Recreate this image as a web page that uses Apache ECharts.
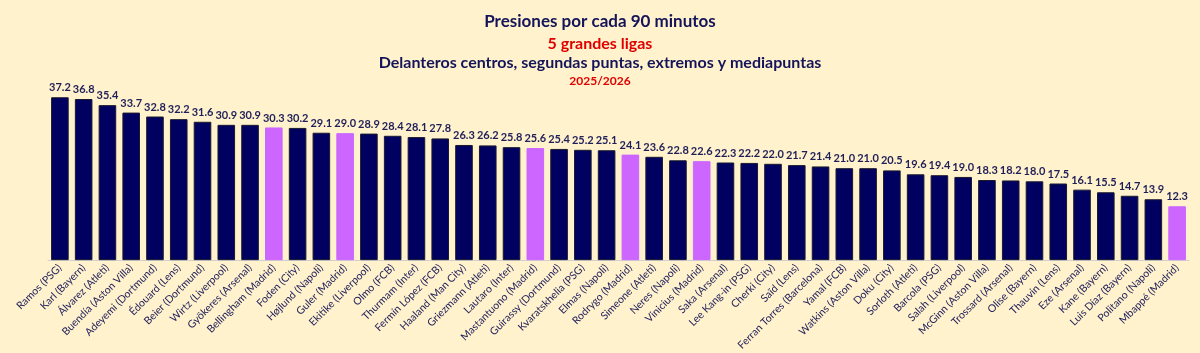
<!DOCTYPE html>
<html>
<head>
<meta charset="utf-8">
<script src="https://cdn.jsdelivr.net/npm/echarts@6/dist/echarts.min.js"></script>
<style>
  html, body { margin: 0; padding: 0; background: #fff2cc; }
  #container { width: 1200px; height: 353px; }
</style>
</head>
<body>
<div id="container"></div>
<script>
// jugadores y presiones por 90'
var players = [
  'Ramos (PSG)', 'Karl (Bayern)', 'Álvarez (Atleti)', 'Buendía (Aston Villa)', 'Adeyemi (Dortmund)',
  'Édouard (Lens)', 'Beier (Dortmund)', 'Wirtz (Liverpool)', 'Gyökeres (Arsenal)', 'Bellingham (Madrid)',
  'Foden (City)', 'Højlund (Napoli)', 'Guler (Madrid)', 'Ekitike (Liverpool)', 'Olmo (FCB)',
  'Thurmam (Inter)', 'Fermín López (FCB)', 'Haaland (Man City)', 'Griezmann (Atleti)', 'Lautaro (Inter)',
  'Mastantuono (Madrid)', 'Guirassy (Dortmund)', 'Kvaratskhelia (PSG)', 'Elmas (Napoli)', 'Rodrygo (Madrid)',
  'Simeone (Atleti)', 'Neres (Napoli)', 'Vinicius (Madrid)', 'Saka (Arsenal)', 'Lee Kang-in (PSG)',
  'Cherki (City)', 'Saïd (Lens)', 'Ferran Torres (Barcelona)', 'Yamal (FCB)', 'Watkins (Aston Villa)',
  'Doku (City)', 'Sorloth (Atleti)', 'Barcola (PSG)', 'Salah (Liverpool)', 'McGinn (Aston Villa)',
  'Trossard (Arsenal)', 'Olise (Bayern)', 'Thauvin (Lens)', 'Eze (Arsenal)', 'Kane (Bayern)',
  'Luis Díaz (Bayern)', 'Politano (Napoli)', 'Mbappé (Madrid)'
];
var pressures = [
  37.2, 36.8, 35.4, 33.7, 32.8, 32.2, 31.6, 30.9, 30.9, 30.3,
  30.2, 29.1, 29.0, 28.9, 28.4, 28.1, 27.8, 26.3, 26.2, 25.8,
  25.6, 25.4, 25.2, 25.1, 24.1, 23.6, 22.8, 22.6, 22.3, 22.2,
  22.0, 21.7, 21.4, 21.0, 21.0, 20.5, 19.6, 19.4, 19.0, 18.3,
  18.2, 18.0, 17.5, 16.1, 15.5, 14.7, 13.9, 12.3
];
// jugadores del Madrid resaltados
var madrid = ['Bellingham (Madrid)', 'Guler (Madrid)', 'Mastantuono (Madrid)', 'Rodrygo (Madrid)', 'Vinicius (Madrid)', 'Mbappé (Madrid)'];

var NAVY = '#000060';
var PURPLE = '#cc66ff';
var FONT = 'Lato, "Open Sans", sans-serif';

var myChart = echarts.init(document.getElementById('container'));

var seriesData = pressures.map(function (v, i) {
  var hl = madrid.indexOf(players[i]) >= 0;
  return {
    value: v,
    itemStyle: { color: hl ? PURPLE : NAVY, borderColor: hl ? PURPLE : '#1a1a2e' }
  };
});

var option = {
  backgroundColor: '#fff2cc',
  animation: false,
  textStyle: { fontFamily: FONT },
  title: [
    { text: 'Presiones por cada 90 minutos', left: 'center', top: 8,
      textStyle: { fontFamily: FONT, fontSize: 17, fontWeight: 'bold', color: '#14145a' } },
    { text: '5 grandes ligas', left: 'center', top: 31,
      textStyle: { fontFamily: FONT, fontSize: 16, fontWeight: 'bold', color: '#e00000' } },
    { text: 'Delanteros centros, segundas puntas, extremos y mediapuntas', left: 'center', top: 50,
      textStyle: { fontFamily: FONT, fontSize: 16, fontWeight: 'bold', color: '#14145a' } },
    { text: '2025/2026', left: 'center', top: 70,
      textStyle: { fontFamily: FONT, fontSize: 12, fontWeight: 'bold', color: '#e00000' } }
  ],
  grid: { left: 48, right: 11, top: 85, bottom: 92 },
  xAxis: {
    type: 'category',
    data: players,
    axisTick: { show: false },
    axisLine: { lineStyle: { color: '#d0d0d0', width: 1 } },
    axisLabel: {
      interval: 0,
      rotate: 45,
      margin: 6,
      fontFamily: FONT,
      fontSize: 10.5,
      color: '#23235e'
    }
  },
  yAxis: {
    type: 'value',
    min: 0,
    max: 40,
    show: false,
    splitLine: { show: false }
  },
  series: [{
    type: 'bar',
    data: seriesData,
    barWidth: '74%',
    itemStyle: { borderWidth: 1 },
    label: {
      show: true,
      position: 'top',
      distance: 4,
      formatter: function (p) { return p.value.toFixed(1); },
      fontFamily: FONT,
      fontSize: 11,
      fontWeight: 'bold',
      color: '#1f1f5a'
    }
  }]
};

myChart.setOption(option);
</script>
</body>
</html>
